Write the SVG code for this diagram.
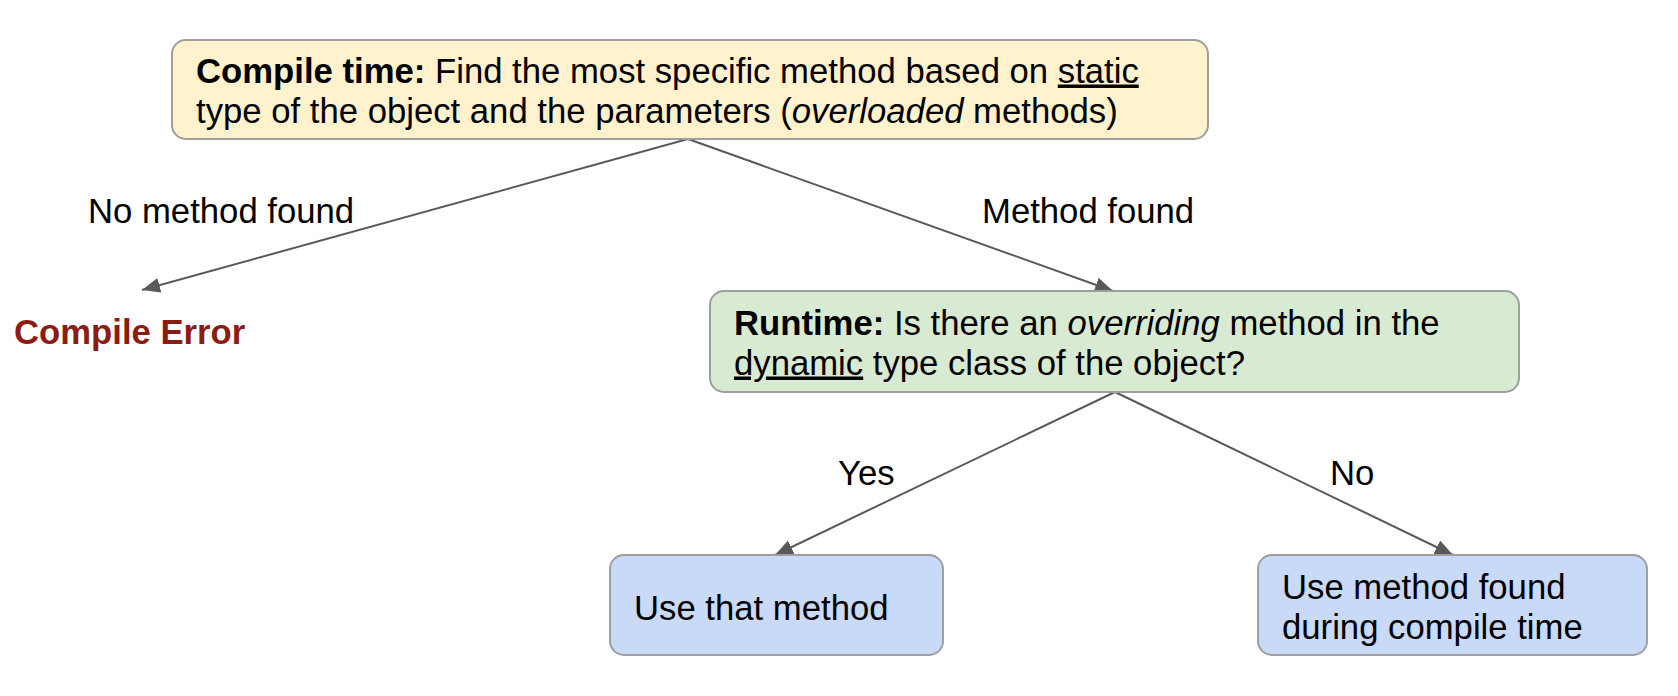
<svg xmlns="http://www.w3.org/2000/svg" width="1678" height="696" viewBox="0 0 1678 696">
<style>
text{font-family:"Liberation Sans",Arial,sans-serif;font-size:34.7px;fill:#000}
.b{font-weight:bold}
.i{font-style:italic}
.u{text-decoration:underline}
.box{stroke:#9e9e9e;stroke-width:2}
.conn{stroke:#595959;stroke-width:2;fill:none;marker-end:url(#arr)}
.err{fill:#8c1c13;font-weight:bold}
</style>
<defs>
<marker id="arr" markerUnits="userSpaceOnUse" markerWidth="20" markerHeight="16" refX="18" refY="7.5" orient="auto">
<path d="M0,0 L18,7.5 L0,15 z" fill="#595959"/>
</marker>
</defs>
<rect width="1678" height="696" fill="#fff"/>
<g id="connectors">
<line class="conn" x1="688" y1="139" x2="142" y2="290"/>
<line class="conn" x1="688" y1="139" x2="1113" y2="291"/>
<line class="conn" x1="1115" y1="392" x2="775" y2="555"/>
<line class="conn" x1="1115" y1="392" x2="1453" y2="555"/>
</g>
<g id="compile-time">
<rect class="box" x="172" y="40" width="1036" height="99" rx="14" fill="#fff2cc"/>
<text x="196" y="82.5"><tspan class="b">Compile time:</tspan> Find the most specific method based on <tspan class="u">static</tspan></text>
<text x="196" y="122.5">type of the object and the parameters (<tspan class="i">overloaded</tspan> methods)</text>
</g>
<g id="label-no-method">
<text x="88" y="222.5">No method found</text>
</g>
<g id="label-method-found">
<text x="982" y="222.5">Method found</text>
</g>
<g id="compile-error">
<text class="err" x="14" y="343.5">Compile Error</text>
</g>
<g id="runtime">
<rect class="box" x="710" y="291" width="809" height="101" rx="14" fill="#d9ead3"/>
<text x="734" y="334.5"><tspan class="b">Runtime:</tspan> Is there an <tspan class="i">overriding</tspan> method in the</text>
<text x="734" y="374.5"><tspan class="u">dynamic</tspan> type class of the object?</text>
</g>
<g id="label-yes">
<text x="838" y="484.5">Yes</text>
</g>
<g id="label-no">
<text x="1330" y="484.5">No</text>
</g>
<g id="use-that">
<rect class="box" x="610" y="555" width="333" height="100" rx="14" fill="#c9daf8"/>
<text x="634" y="619.5">Use that method</text>
</g>
<g id="use-compile">
<rect class="box" x="1258" y="555" width="389" height="100" rx="14" fill="#c9daf8"/>
<text x="1282" y="598.5">Use method found</text>
<text x="1282" y="638.5">during compile time</text>
</g>
</svg>
